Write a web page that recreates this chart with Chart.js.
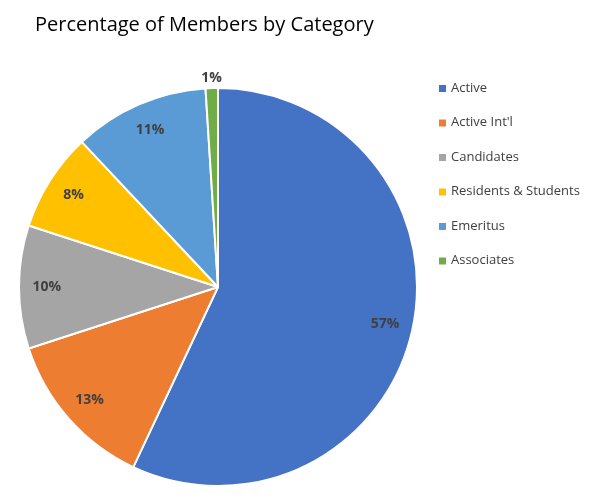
<!DOCTYPE html>
<html><head><meta charset="utf-8">
<script src="https://cdn.jsdelivr.net/npm/chart.js@4"></script>
<style>html,body{margin:0;background:#fff}#wrap{width:606px;height:501px}</style>
</head><body><div id="wrap"><canvas id="c"></canvas></div>
<script>
const categories = ['Active', "Active Int'l", 'Candidates', 'Residents & Students', 'Emeritus', 'Associates'];
const shares = [57, 13, 10, 8, 11, 1];
const colors = ['#4472C4', '#ED7D31', '#A5A5A5', '#FFC000', '#5B9BD5', '#70AD47'];

// title, slice labels and legend drawn by hand
const extras = {
    id: 'extras',
    afterDraw(chart) {
        const ctx = chart.ctx;
        ctx.save();
        ctx.fillStyle = '#000';
        ctx.font = '20px "Open Sans", sans-serif';
        ctx.textBaseline = 'middle';
        ctx.textAlign = 'left';
        ctx.fillText('Percentage of Members by Category', 35, 25);

        ctx.font = 'bold 14px "Open Sans", sans-serif';
        ctx.fillStyle = '#404040';
        ctx.textAlign = 'center';
        chart.getDatasetMeta(0).data.forEach((arc, i) => {
            const mid = (arc.startAngle + arc.endAngle) / 2;
            const r = shares[i] < 3 ? arc.outerRadius + 10 : arc.outerRadius * 0.86;
            ctx.fillText(shares[i] + '%', arc.x + Math.cos(mid) * r, arc.y + Math.sin(mid) * r);
        });

        ctx.font = '13px "Open Sans", sans-serif';
        ctx.textAlign = 'left';
        categories.forEach((c, i) => {
            const y = 88 + i * 34.5;
            ctx.fillStyle = colors[i];
            ctx.fillRect(439, y - 3, 7, 7);
            ctx.fillStyle = '#404040';
            ctx.fillText(c, 451, y);
        });
        ctx.restore();
    }
};

new Chart(document.getElementById('c'), {
    type: 'pie',
    data: {
        labels: categories,
        datasets: [{ data: shares, backgroundColor: colors, borderColor: '#fff', borderWidth: 2 }]
    },
    options: {
        responsive: true,
        maintainAspectRatio: false,
        animation: false,
        layout: { padding: { left: 18, right: 188, top: 87, bottom: 14 } },
        plugins: { legend: { display: false }, tooltip: { enabled: false } }
    },
    plugins: [extras]
});
</script></body></html>
